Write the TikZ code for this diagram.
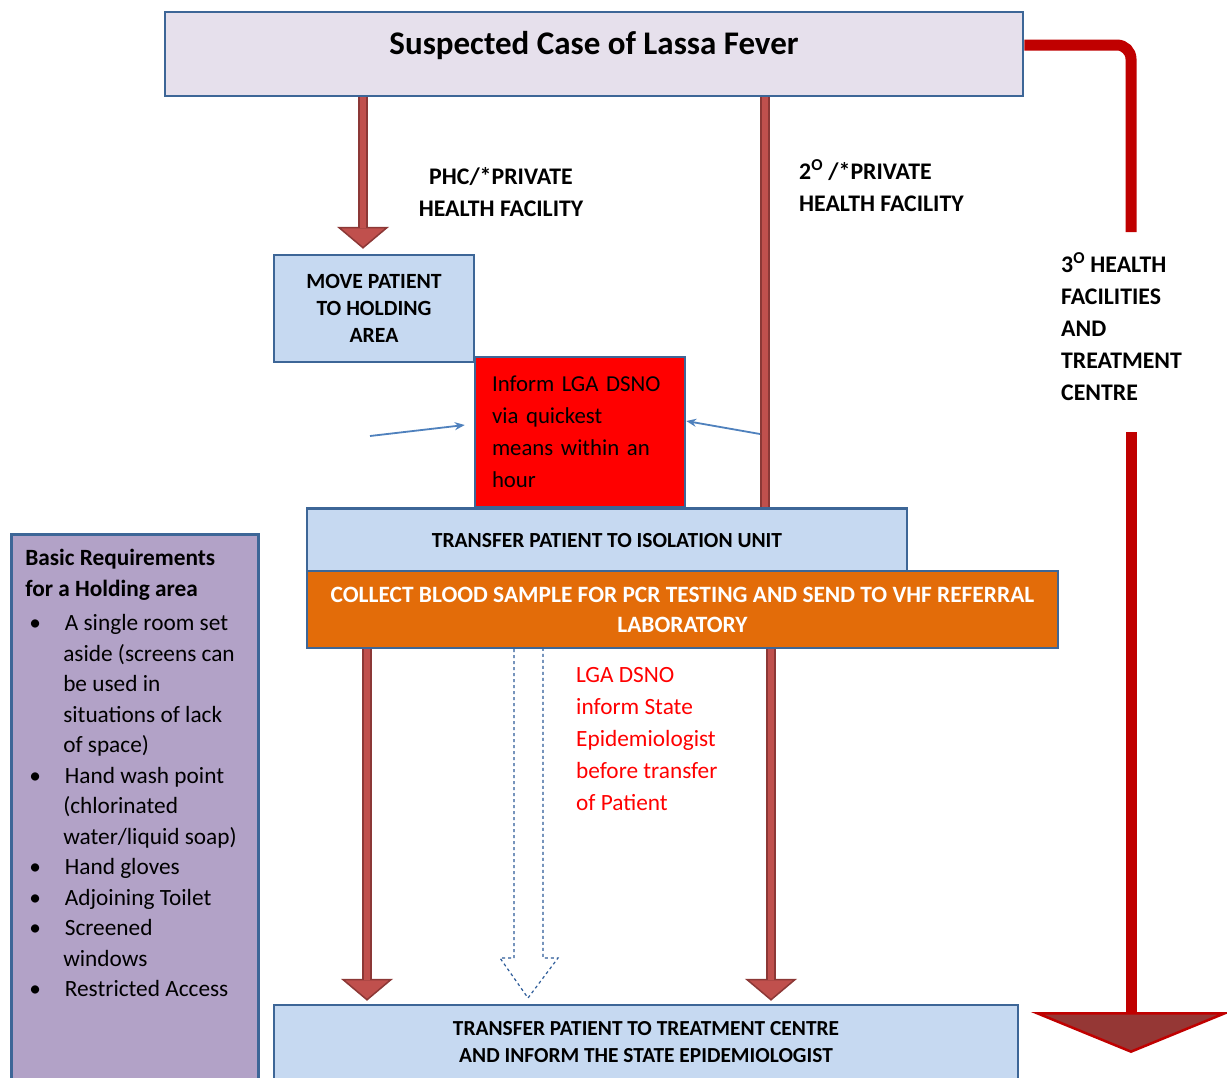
\documentclass[tikz,border=0pt]{standalone}
\usepackage{fontspec}
\setmainfont{Carlito}
\usetikzlibrary{arrows.meta}
\definecolor{titlefill}{HTML}{E6E0EC}
\definecolor{boxblue}{HTML}{3D6697}
\definecolor{paleblue}{HTML}{C6D9F1}
\definecolor{labrange}{HTML}{E36C09}
\definecolor{reqpurple}{HTML}{B2A2C7}
\definecolor{arrowred}{HTML}{C0504D}
\definecolor{arrowdark}{HTML}{8C3836}
\definecolor{pathred}{HTML}{C00000}
\definecolor{headred}{HTML}{953735}
\definecolor{thinblue}{HTML}{4F81BD}
\definecolor{dashblue}{HTML}{2E5C99}
\begin{document}
\begin{tikzpicture}[x=1pt,y=-1pt,
	box/.style={draw=boxblue,line width=2.5pt,fill=paleblue,align=center},
	fatarrow/.style={draw=arrowdark,line width=10pt,
		-{Triangle[width=52pt,length=22pt,line width=1.5pt,fill=arrowred]},
		postaction={draw=arrowred,line width=6.5pt,-,shorten >=21pt}},
	fatline/.style={draw=arrowdark,line width=10pt,
		postaction={draw=arrowred,line width=6.5pt}},
	caps/.style={font=\bfseries\fontsize{23.8}{32}\selectfont,inner sep=0pt},
	thinarrow/.style={draw=thinblue,line width=1.8pt,-{Stealth[length=10pt,width=8pt]}}]
	\clip (0,0) rectangle (1227,1077);
	\fill[white] (0,0) rectangle (1227,1077);
	% boxes
	\node[box,fill=titlefill,minimum width=858pt,minimum height=84pt,
		text height=25pt,text depth=25pt,font=\bfseries\fontsize{33}{38}\selectfont]
		(title) at (594,54) {Suspected Case of Lassa Fever};
	\node[box,minimum width=200pt,minimum height=107pt,
		font=\bfseries\fontsize{21.7}{27}\selectfont]
		(holding) at (374,308.5) {MOVE PATIENT\\TO HOLDING\\AREA};
	\node[box,fill=red,minimum width=210pt,minimum height=150pt,text width=176pt,
		inner xsep=17pt,align=left,font=\fontsize{22.8}{32}\selectfont]
		(inform) at (580,432) {Inform LGA DSNO\\via quickest\\means within an\\hour};
	\node[box,minimum width=600pt,minimum height=65pt,
		font=\bfseries\fontsize{21.5}{27}\selectfont]
		(isolation) at (607,541) {TRANSFER PATIENT TO ISOLATION UNIT};
	\node[box,fill=labrange,text=white,minimum width=751pt,minimum height=77pt,
		font=\bfseries\fontsize{23.4}{30}\selectfont]
		(collect) at (682.5,609.5) {COLLECT BLOOD SAMPLE FOR PCR TESTING AND SEND TO VHF REFERRAL\\LABORATORY};
	\node[box,minimum width=744pt,minimum height=75pt,
		font=\bfseries\fontsize{21.4}{27}\selectfont]
		(treatment) at (646,1042.5) {TRANSFER PATIENT TO TREATMENT CENTRE\\AND INFORM THE STATE EPIDEMIOLOGIST};
	\node[box,fill=reqpurple,anchor=north west,inner xsep=14pt,inner ysep=15pt,align=left,
		font=\fontsize{23.3}{30.5}\selectfont]
		(require) at (10,533) {\parbox[c][540pt][t]{219pt}{%
			{\bfseries Basic Requirements\\for a Holding area}\par
			\begin{list}{\textbullet}{\leftmargin=38pt\labelwidth=10pt\labelsep=24pt
				\itemsep=0pt\parsep=0pt\topsep=4pt\partopsep=0pt}
			\item A single room set\\aside (screens can\\be used in\\situations of lack\\of space)
			\item Hand wash point\\(chlorinated\\water/liquid soap)
			\item Hand gloves
			\item Adjoining Toilet
			\item Screened\\windows
			\item Restricted Access
			\end{list}}};
	% labels
	\node[caps,align=center] (phc) at (501,192) {PHC/*PRIVATE\\HEALTH FACILITY};
	\node[caps,align=left,anchor=west] (second) at (799,186) {2\textsuperscript{O} /*PRIVATE\\HEALTH FACILITY};
	\node[caps,align=left,anchor=west] (tertiary) at (1061,326.5) {3\textsuperscript{O} HEALTH\\FACILITIES\\AND\\TREATMENT\\CENTRE};
	\node[inner sep=0pt,align=left,anchor=west,text=red,font=\fontsize{23.3}{32}\selectfont]
		(notify) at (576,739) {LGA DSNO\\inform State\\Epidemiologist\\before transfer\\of Patient};
	% connectors
	\coordinate (hx) at (363,0);
	\coordinate (mx) at (765,0);
	\coordinate (lx) at (367,0);
	\coordinate (rx) at (771,0);
	\draw[fatarrow] (title.south -| hx) -- ([yshift=5pt]holding.north -| hx);
	\draw[fatline] (title.south -| mx) -- (isolation.north -| mx);
	\draw[thinarrow] (370,436) -- ([yshift=7pt,xshift=-9pt]inform.west);
	\draw[thinarrow] ([xshift=-5pt,yshift=-2pt]inform.east -| mx) -- ([yshift=11pt]inform.east);
	\draw[fatarrow] (collect.south -| lx) -- ([yshift=3pt]treatment.north -| lx);
	\draw[fatarrow] (collect.south -| rx) -- ([yshift=3pt]treatment.north -| rx);
	% tertiary route
	\coordinate (ttop) at (1131,232);
	\coordinate (tbot) at (1131,432);
	\draw[pathred,line width=11pt,rounded corners=14pt] ([yshift=9pt]title.east) -| (ttop);
	\draw[pathred,line width=11pt,
		-{Triangle[width=200pt,length=41pt,line width=2.5pt,fill=headred]}] (tbot) -- (1131,1053);
	% hollow dashed arrow
	\draw[dashblue,dashed,line width=1.2pt,fill=white]
		(514,649) -- (514,958) -- (500,958) -- (528,998) -- (558,958) -- (543,958) -- (543,649);
\end{tikzpicture}
\end{document}
